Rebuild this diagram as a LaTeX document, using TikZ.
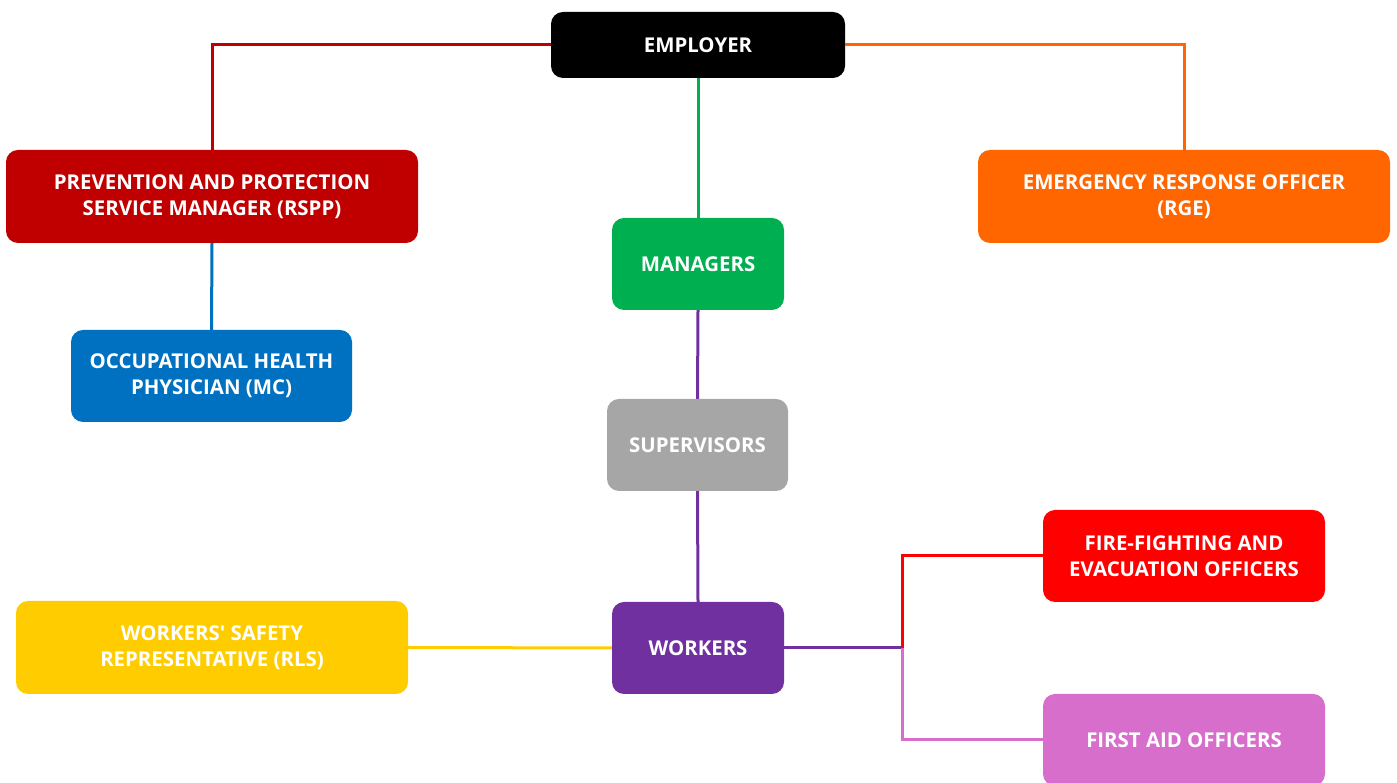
\documentclass[tikz,border=0pt]{standalone}
\usepackage{fontspec}
\setmainfont{Open Sans}[Ligatures=TeXOff]
\definecolor{cEmp}{HTML}{000000}
\definecolor{cRspp}{HTML}{C00000}
\definecolor{cMan}{HTML}{00B050}
\definecolor{cRge}{HTML}{FF6600}
\definecolor{cMc}{HTML}{0070C0}
\definecolor{cSup}{HTML}{A6A6A6}
\definecolor{cFire}{HTML}{FF0000}
\definecolor{cRls}{HTML}{FFCC00}
\definecolor{cWork}{HTML}{7030A0}
\definecolor{cAid}{HTML}{D86ECC}
\begin{document}
\begin{tikzpicture}[x=1pt,y=1pt,
  box/.style={rounded corners=12pt, inner sep=0pt, align=center, text=white,
    font=\fontsize{20.4}{26}\selectfont\bfseries},
  conn/.style={line width=3pt}]
\useasboundingbox (0,0) rectangle (1397,783);
\node[box, fill=cEmp, minimum width=294, minimum height=66] (emp) at (698,738) {EMPLOYER};
\node[box, fill=cRspp, minimum width=412, minimum height=93] (rspp) at (212,586.5) {PREVENTION AND PROTECTION\\SERVICE MANAGER (RSPP)};
\node[box, fill=cMan, minimum width=172, minimum height=92] (man) at (698,519) {MANAGERS};
\node[box, fill=cRge, minimum width=412, minimum height=93] (rge) at (1184,586.5) {EMERGENCY RESPONSE OFFICER\\(RGE)};
\node[box, fill=cMc, minimum width=281, minimum height=92] (mc) at (211.5,407) {OCCUPATIONAL HEALTH\\PHYSICIAN (MC)};
\node[box, fill=cSup, minimum width=181, minimum height=92] (sup) at (697.5,338) {SUPERVISORS};
\node[box, fill=cFire, minimum width=282, minimum height=92] (fire) at (1184,227) {FIRE-FIGHTING AND\\EVACUATION OFFICERS};
\node[box, fill=cRls, minimum width=392, minimum height=93] (rls) at (212,135.5) {WORKERS' SAFETY\\REPRESENTATIVE (RLS)};
\node[box, fill=cWork, minimum width=172, minimum height=92] (work) at (698,135) {WORKERS};
\node[box, fill=cAid, minimum width=282, minimum height=92] (aid) at (1184,43) {FIRST AID OFFICERS};
\coordinate (br) at (902,135);
\draw[conn, cRspp] (emp.west) -| (rspp.north);
\draw[conn, cRge] (emp.east) -| (rge.north);
\draw[conn, cMan] (emp.south) -- (man.north);
\draw[conn, cMc] (rspp.south) -- (mc.north);
\draw[conn, cWork] (man.south) -- (sup.north);
\draw[conn, cWork] (sup.south) -- (work.north);
\draw[conn, cRls] (rls.east) -- (work.west);
\draw[conn, cWork] (work.east) -- (br);
\draw[conn, cFire] (br) |- (fire.west);
\draw[conn, cAid] (br) |- (aid.west);
\end{tikzpicture}
\end{document}
